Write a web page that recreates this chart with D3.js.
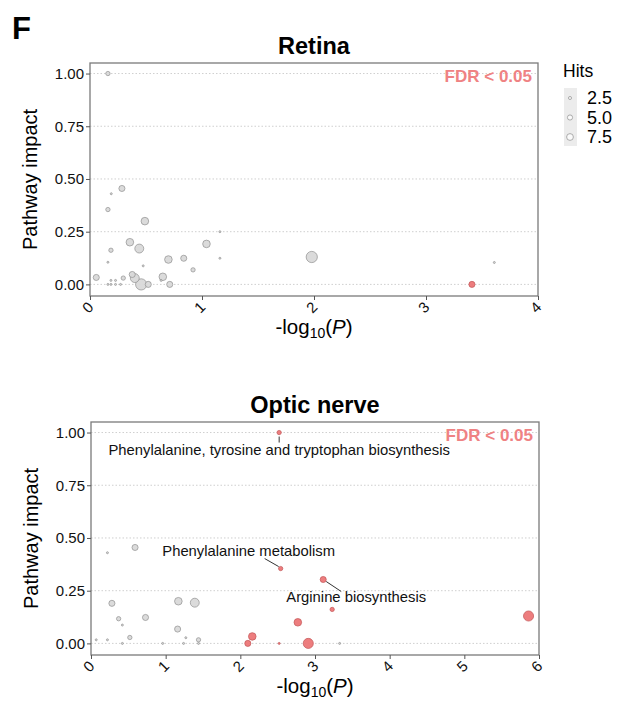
<!DOCTYPE html>
<html>
<head>
<meta charset="utf-8">
<script src="https://cdn.jsdelivr.net/npm/d3@7"></script>
<style>
  body { margin: 0; background: #fff; }
  svg { font-family: "Liberation Sans", Arial, sans-serif; }
</style>
</head>
<body>
<div id="graph"></div>
<script>
// Retina pathways: -log10(P), impact, hits, FDR significant
const retinaX    = [0.16, 0.19, 0.285, 0.16, 0.49, 0.356, 0.187, 0.44, 0.16, 0.475, 0.056, 0.16, 0.187, 0.228, 0.273, 0.187, 0.228, 0.297, 0.377, 0.40, 0.457, 0.52, 0.65, 0.635, 0.712, 0.70, 0.837, 0.92, 1.04, 1.16, 1.16, 1.98, 3.61, 3.41]
const retinaY    = [1.00, 0.43, 0.455, 0.355, 0.30, 0.20, 0.162, 0.17, 0.105, 0.088, 0.033, 0.00, 0.00, 0.00, 0.00, 0.019, 0.019, 0.03, 0.047, 0.03, 0.00, 0.00, 0.036, 0.019, 0.00, 0.118, 0.124, 0.069, 0.192, 0.25, 0.124, 0.13, 0.104, 0.00]
const retinaHits = [2, 1, 3, 2, 4, 4, 2, 5, 1, 1, 3, 1, 1, 1, 1, 1, 1, 2, 3, 5, 7, 3, 4, 1, 3, 4, 3, 2, 4, 1, 1, 7, 1, 3]
const retinaSig  = [0, 0, 0, 0, 0, 0, 0, 0, 0, 0, 0, 0, 0, 0, 0, 0, 0, 0, 0, 0, 0, 0, 0, 0, 0, 0, 0, 0, 0, 0, 0, 0, 0, 1]

// Optic nerve pathways
const opticX    = [0.07, 0.22, 0.22, 0.59, 0.28, 0.37, 0.42, 0.42, 0.52, 0.73, 0.96, 1.17, 1.39, 1.16, 1.27, 1.24, 1.44, 1.44, 3.33, 2.10, 2.16, 2.52, 2.52, 2.54, 3.11, 3.23, 2.77, 2.91, 5.86]
const opticY    = [0.017, 0.017, 0.43, 0.455, 0.19, 0.117, 0.087, 0.00, 0.028, 0.123, 0.00, 0.20, 0.193, 0.068, 0.027, 0.00, 0.017, 0.00, 0.00, 0.00, 0.033, 1.00, 0.00, 0.355, 0.303, 0.161, 0.10, 0.00, 0.13]
const opticHits = [1, 1, 1, 3, 3, 2, 1, 1, 2, 3, 1, 4, 5, 3, 1, 1, 2, 1, 1, 3, 4, 2, 1, 2, 3, 2, 4, 6, 6]
const opticSig  = [0, 0, 0, 0, 0, 0, 0, 0, 0, 0, 0, 0, 0, 0, 0, 0, 0, 0, 0, 1, 1, 1, 1, 1, 1, 1, 1, 1, 1]
const opticNames = {
    21: 'Phenylalanine, tyrosine and tryptophan biosynthesis',
    23: 'Phenylalanine metabolism',
    24: 'Arginine biosynthesis'
}

const yTicks = [0, 0.25, 0.5, 0.75, 1]
const legendHits = [2.5, 5.0, 7.5]

const width = 635
const height = 702

const svg = d3.select('div#graph')
    .append('svg')
        .attr('width', width)
        .attr('height', height)

const rScale = d3.scaleSqrt()
    .domain([1, 9])
    .range([1, 6.6])

svg.append('text')
    .attr('x', 12)
    .attr('y', 39)
    .attr('font-size', 31)
    .attr('font-weight', 'bold')
    .text('F')

function makeRows(xs, ys, hits, sig) {
    return xs.map((x, i) => ({ i: i, x: x, y: ys[i], hits: hits[i], sig: sig[i] === 1 }))
}

function drawPanel(opts) {

    const pw = 448
    const ph = 233

    const g = svg.append('g')
        .attr('transform', `translate(${opts.left},${opts.top})`)

    const xScale = d3.scaleLinear()
        .domain(opts.xDomain)
        .range([0, pw])

    const yScale = d3.scaleLinear()
        .domain([-0.055, 1.05])
        .range([ph, 0])

    // title
    g.append('text')
        .attr('x', pw / 2)
        .attr('y', -9)
        .attr('text-anchor', 'middle')
        .attr('font-size', 23.5)
        .attr('font-weight', 'bold')
        .text(opts.title)

    // dotted grid
    g.append('g')
        .selectAll('line')
        .data(yTicks).enter()
        .append('line')
            .attr('x1', 0)
            .attr('x2', pw)
            .attr('y1', d => yScale(d))
            .attr('y2', d => yScale(d))
            .attr('stroke', '#cfcfcf')
            .attr('stroke-width', 1)
            .attr('stroke-dasharray', '1.5,2')

    // panel border
    g.append('rect')
        .attr('width', pw)
        .attr('height', ph)
        .attr('fill', 'none')
        .attr('stroke', '#7a7a7a')
        .attr('stroke-width', 1.3)

    const yAxis = g.append('g')
        .call(d3.axisLeft(yScale).tickValues(yTicks).tickFormat(d3.format('.2f')).tickSize(4).tickSizeOuter(0))
    yAxis.select('.domain').remove()
    yAxis.selectAll('line').attr('stroke', '#555')
    yAxis.selectAll('text')
        .attr('font-size', 15)
        .attr('fill', '#111')
        .attr('x', -6)
        .attr('font-family', '"Liberation Sans", Arial, sans-serif')

    const xAxis = g.append('g')
        .attr('transform', `translate(0,${ph})`)
        .call(d3.axisBottom(xScale).ticks(opts.xDomain[1]).tickFormat(d3.format('d')).tickSize(4).tickSizeOuter(0))
    xAxis.select('.domain').remove()
    xAxis.selectAll('line').attr('stroke', '#555')
    xAxis.selectAll('text')
        .attr('font-size', 15)
        .attr('fill', '#111')
        .attr('font-family', '"Liberation Sans", Arial, sans-serif')
        .attr('y', 0)
        .attr('dy', 0)
        .attr('text-anchor', 'middle')
        .attr('transform', 'translate(1,15) rotate(-45)')

    // axis titles
    g.append('text')
        .attr('transform', `translate(-53,${ph / 2}) rotate(-90)`)
        .attr('text-anchor', 'middle')
        .attr('font-size', 20)
        .text('Pathway impact')

    const xl = g.append('text')
        .attr('x', pw / 2)
        .attr('y', ph + 38)
        .attr('text-anchor', 'middle')
        .attr('font-size', 20.5)
    xl.append('tspan').text('-log')
    xl.append('tspan').attr('font-size', 14).attr('dy', 4).text('10')
    xl.append('tspan').attr('dy', -4).text('(')
    xl.append('tspan').attr('font-style', 'italic').text('P')
    xl.append('tspan').text(')')

    // FDR note
    g.append('text')
        .attr('x', pw - 6)
        .attr('y', 19)
        .attr('text-anchor', 'end')
        .attr('font-size', 17)
        .attr('font-weight', 'bold')
        .attr('fill', '#ef8283')
        .text('FDR < 0.05')

    // points, big ones underneath
    const rows = opts.rows.slice().sort((a, b) => b.hits - a.hits)

    g.append('g')
        .selectAll('circle')
        .data(rows).enter()
        .append('circle')
            .attr('cx', d => xScale(d.x))
            .attr('cy', d => yScale(d.y))
            .attr('r', d => rScale(d.hits))
            .attr('fill', d => d.sig ? '#ec7677' : '#d9d9d9')
            .attr('fill-opacity', 0.95)
            .attr('stroke', d => d.sig ? '#c25456' : '#8f8f8f')
            .attr('stroke-width', 0.7)

    // pathway labels
    if (opts.names) {
        const nudge = {
            21: { lx: 0, ly: 4, tx: 0, ty: 22, ex: 0, ey: 10 },
            23: { lx: -2, ly: -2, tx: -32, ty: -13, ex: -16, ey: -10 },
            24: { lx: 3, ly: 2, tx: 33, ty: 22, ex: 18, ey: 12 }
        }
        const labelled = opts.rows.filter(d => opts.names[d.i] !== undefined)

        g.append('g')
            .selectAll('line')
            .data(labelled).enter()
            .append('line')
                .attr('x1', d => xScale(d.x) + nudge[d.i].lx)
                .attr('y1', d => yScale(d.y) + nudge[d.i].ly)
                .attr('x2', d => xScale(d.x) + nudge[d.i].ex)
                .attr('y2', d => yScale(d.y) + nudge[d.i].ey)
                .attr('stroke', '#333')
                .attr('stroke-width', 1)

        g.append('g')
            .selectAll('text')
            .data(labelled).enter()
            .append('text')
                .attr('x', d => xScale(d.x) + nudge[d.i].tx)
                .attr('y', d => yScale(d.y) + nudge[d.i].ty)
                .attr('text-anchor', 'middle')
                .attr('font-size', 14.8)
                .attr('fill', '#111')
                .text(d => opts.names[d.i])
    }
}

drawPanel({
    title: 'Retina',
    left: 90,
    top: 63,
    xDomain: [0, 4],
    rows: makeRows(retinaX, retinaY, retinaHits, retinaSig)
})

drawPanel({
    title: 'Optic nerve',
    left: 91,
    top: 422,
    xDomain: [0, 6],
    rows: makeRows(opticX, opticY, opticHits, opticSig),
    names: opticNames
})

// size legend
const legend = svg.append('g')
    .attr('transform', 'translate(563,0)')

legend.append('text')
    .attr('x', 0)
    .attr('y', 77)
    .attr('font-size', 17.5)
    .text('Hits')

legend.append('rect')
    .attr('x', 1)
    .attr('y', 88)
    .attr('width', 13)
    .attr('height', 58)
    .attr('fill', '#ececec')

const legendY = d3.scalePoint()
    .domain(legendHits)
    .range([98, 137])

legend.selectAll('circle')
    .data(legendHits).enter()
    .append('circle')
        .attr('cx', 7)
        .attr('cy', d => legendY(d))
        .attr('r', d => rScale(d) * 0.58)
        .attr('fill', '#fafafa')
        .attr('stroke', '#999')
        .attr('stroke-width', 0.8)

legend.selectAll('.lab')
    .data(legendHits).enter()
    .append('text')
        .attr('class', 'lab')
        .attr('x', 24)
        .attr('y', d => legendY(d) + 6)
        .attr('font-size', 18)
        .text(d => d3.format('.1f')(d))
</script>
</body>
</html>
